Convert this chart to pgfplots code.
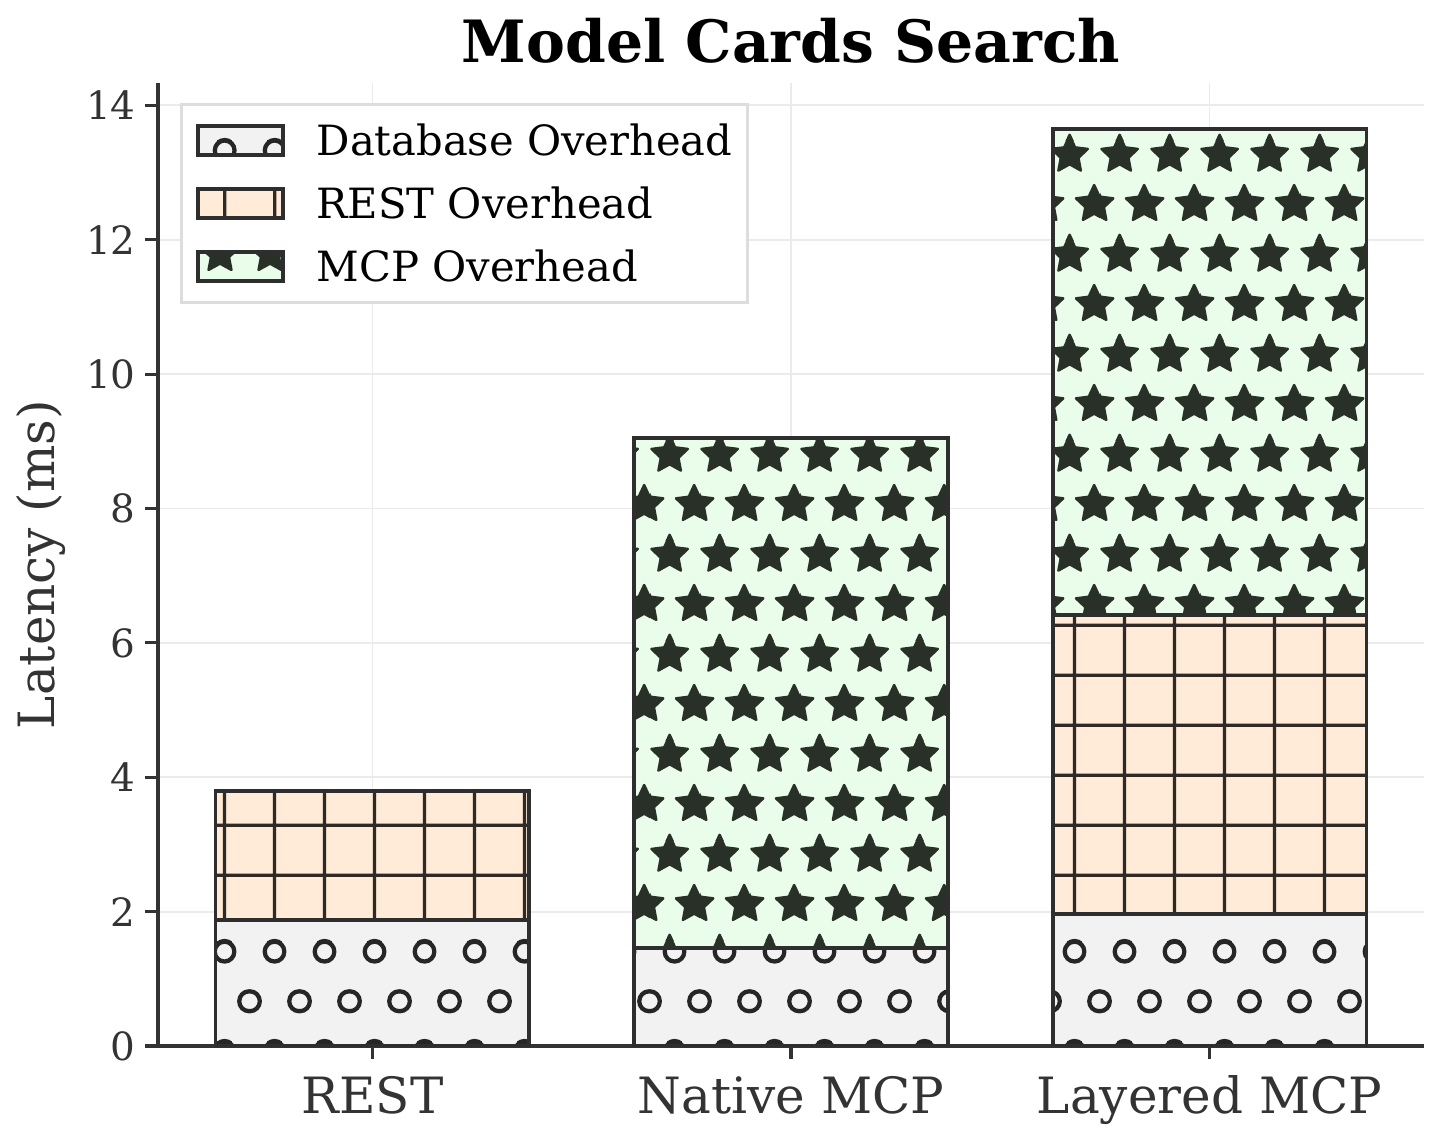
\documentclass[border=0pt]{standalone}
\usepackage{fontspec}
\setmainfont{DejaVu Serif}
\usepackage{pgfplots}
\pgfplotsset{compat=1.18}
\usetikzlibrary{patterns}

\definecolor{dbfill}{HTML}{F2F2F2}
\definecolor{restfill}{HTML}{FFEBD7}
\definecolor{mcpfill}{HTML}{EAFCEA}
\definecolor{edgec}{HTML}{2E2E2E}
\definecolor{hatchA}{HTML}{262626}
\definecolor{hatchB}{HTML}{2F2A25}
\definecolor{hatchC}{HTML}{283028}
\definecolor{spinec}{HTML}{333333}
\definecolor{gridc}{HTML}{EBEBEB}
\definecolor{legframe}{HTML}{DDDDDD}

\pgfdeclarepatternformonly{hcircles}{\pgfpointorigin}{\pgfpoint{18pt}{36pt}}{\pgfpoint{18pt}{36pt}}{%
  \pgfsetlinewidth{1.55pt}%
  \pgfpathcircle{\pgfpoint{0pt}{14.4pt}}{3.6pt}%
  \pgfpathcircle{\pgfpoint{18pt}{14.4pt}}{3.6pt}%
  \pgfpathcircle{\pgfpoint{9pt}{32.4pt}}{3.6pt}%
  \pgfpathcircle{\pgfpoint{9pt}{-3.6pt}}{3.6pt}%
  \pgfusepath{stroke}}

\pgfdeclarepatternformonly{hgrid}{\pgfpointorigin}{\pgfpoint{18pt}{18pt}}{\pgfpoint{18pt}{18pt}}{%
  \pgfsetlinewidth{1.2pt}%
  \pgfpathmoveto{\pgfpoint{9pt}{-1pt}}\pgfpathlineto{\pgfpoint{9pt}{19pt}}%
  \pgfpathmoveto{\pgfpoint{-1pt}{5.4pt}}\pgfpathlineto{\pgfpoint{19pt}{5.4pt}}%
  \pgfusepath{stroke}}

\newcommand\starpath[2]{%
  \pgfpathmoveto{\pgfpointadd{\pgfpoint{#1}{#2}}{\pgfpointpolar{90}{7pt}}}%
  \pgfpathlineto{\pgfpointadd{\pgfpoint{#1}{#2}}{\pgfpointpolar{126}{3.4pt}}}%
  \pgfpathlineto{\pgfpointadd{\pgfpoint{#1}{#2}}{\pgfpointpolar{162}{7pt}}}%
  \pgfpathlineto{\pgfpointadd{\pgfpoint{#1}{#2}}{\pgfpointpolar{198}{3.4pt}}}%
  \pgfpathlineto{\pgfpointadd{\pgfpoint{#1}{#2}}{\pgfpointpolar{234}{7pt}}}%
  \pgfpathlineto{\pgfpointadd{\pgfpoint{#1}{#2}}{\pgfpointpolar{270}{3.4pt}}}%
  \pgfpathlineto{\pgfpointadd{\pgfpoint{#1}{#2}}{\pgfpointpolar{306}{7pt}}}%
  \pgfpathlineto{\pgfpointadd{\pgfpoint{#1}{#2}}{\pgfpointpolar{342}{3.4pt}}}%
  \pgfpathlineto{\pgfpointadd{\pgfpoint{#1}{#2}}{\pgfpointpolar{18}{7pt}}}%
  \pgfpathlineto{\pgfpointadd{\pgfpoint{#1}{#2}}{\pgfpointpolar{54}{3.4pt}}}%
  \pgfpathclose}

\pgfdeclarepatternformonly{hstars}{\pgfpointorigin}{\pgfpoint{18pt}{36pt}}{\pgfpoint{18pt}{36pt}}{%
  \pgfsetlinewidth{0.9pt}\pgfsetroundjoin
  \starpath{7.2pt}{30.9pt}%
  \starpath{7.2pt}{-5.1pt}%
  \starpath{16.2pt}{12.96pt}%
  \starpath{-1.8pt}{12.96pt}%
  \pgfusepath{fill,stroke}}

\pgfplotsset{mylegend/.style={legend image code/.code={%
  \draw[##1] (0pt,-5.2pt) rectangle (30.4pt,5.3pt);}}}

\begin{document}
\begin{tikzpicture}
\begin{axis}[
  name=ax,
  scale only axis,
  width=455.76pt, height=346.68pt,
  ybar stacked, bar width=0.75,
  xmin=-0.5125, xmax=2.5125, ymin=0, ymax=14.3325,
  xtick={0,1,2}, xticklabels={REST, Native MCP, Layered MCP},
  ytick={0,2,4,6,8,10,12,14},
  axis x line*=bottom, axis y line*=left,
  axis line style={draw=spinec, line width=1.1pt, -},
  tick align=outside, major tick length=4.5pt,
  tick style={draw=spinec, line width=1.1pt},
  grid=major, major grid style={draw=gridc, line width=0.7pt},
  /pgf/number format/assume math mode=true,
  yticklabel style={font=\fontsize{14}{16}\selectfont, text=spinec},
  xticklabel style={font=\fontsize{18}{21}\selectfont, text=spinec, anchor=base, yshift=-19.8pt},
  title={Model Cards Search},
  title style={font=\bfseries\fontsize{21}{25}\selectfont, at={(axis description cs:0.5,1.0043)}, anchor=base},
  ylabel={Latency (ms)},
  ylabel style={font=\fontsize{18}{21}\selectfont, text=spinec, at={(axis description cs:-0.0814,0.5)}, rotate=0, anchor=base},
  legend style={at={(axis description cs:0,1)}, anchor=north west, xshift=7.9pt, yshift=-7.2pt,
    draw=legframe, line width=1pt, fill=white, font=\fontsize{15}{18}\selectfont, text=black,
    inner xsep=5.4pt, inner ysep=7pt, row sep=10.8pt,
    nodes={inner sep=0pt, text height=10.95pt, text depth=0pt},
    /tikz/every odd column/.append style={column sep=11.5pt}},
  legend cell align=left,
]
\addplot[draw=edgec, line width=1.4pt, preaction={fill=dbfill}, pattern=hcircles, pattern color=hatchA, mylegend]
  coordinates {(0,1.87) (1,1.46) (2,1.97)};
\addplot[draw=edgec, line width=1.4pt, preaction={fill=restfill}, pattern=hgrid, pattern color=hatchB, mylegend]
  coordinates {(0,1.92) (1,0) (2,4.44)};
\addplot[draw=edgec, line width=1.4pt, preaction={fill=mcpfill}, pattern=hstars, pattern color=hatchC, mylegend]
  coordinates {(0,0) (1,7.59) (2,7.24)};
\legend{Database Overhead, REST Overhead, MCP Overhead}
\end{axis}
\pgfresetboundingbox
\path[use as bounding box] ([xshift=-56.88pt,yshift=-33.84pt]ax.south west) rectangle ++(517.68pt,410.4pt);
\end{tikzpicture}
\end{document}
